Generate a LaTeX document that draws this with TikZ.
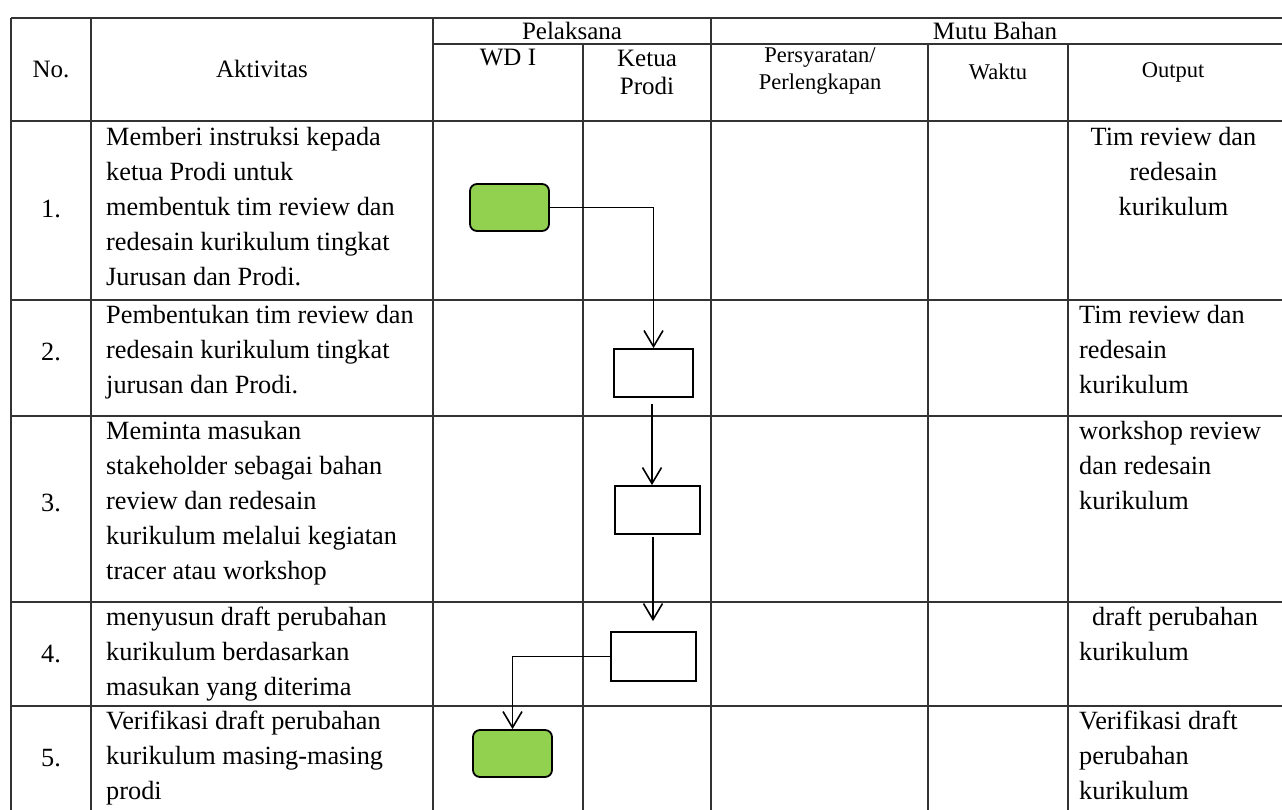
\documentclass[tikz,border=0pt]{standalone}
\usepackage{fontspec}
\setmainfont{Liberation Serif}
\usetikzlibrary{arrows.meta}
\definecolor{boxgreen}{HTML}{92D050}
\begin{document}
\begin{tikzpicture}[x=1pt,y=-1pt,
  grid/.style={line width=1.3pt,draw=black!80},
  body/.style={inner sep=0pt,font=\fontsize{26.3}{35}\selectfont},
  head/.style={inner sep=0pt,align=center,font=\fontsize{25}{28}\selectfont},
  headsm/.style={inner sep=0pt,align=center,font=\fontsize{22.5}{27}\selectfont},
  act/.style={body,anchor=north west,align=left},
  outc/.style={body,anchor=north,align=center},
  outl/.style={body,anchor=north west,align=left},
  num/.style={body,anchor=base},
  termbox/.style={draw=black,line width=1.8pt,fill=boxgreen,rounded corners=7pt,minimum width=79pt,minimum height=47pt,inner sep=0pt},
  procbox/.style={draw=black,line width=1.8pt,fill=white,minimum height=48pt,inner sep=0pt},
  flow/.style={line width=1.6pt,draw=black,-{Straight Barb[length=16pt,width=19pt,line width=1.6pt]}}
]
\useasboundingbox (0,0) rectangle (1282,809);
% grid
\draw[grid] (11,18) -- (1283,18);
\draw[grid] (433,44) -- (1283,44);
\foreach \yy in {121,300,416,602,706} \draw[grid] (11,\yy) -- (1283,\yy);
\foreach \xx in {11,91,433,711} \draw[grid] (\xx,18) -- (\xx,810);
\foreach \xx in {583,928,1068} \draw[grid] (\xx,44) -- (\xx,810);
% header
\node[head] (hno) at (51,69) {No.};
\node[head] (hakt) at (262,69) {Aktivitas};
\node[head] (hpel) at (572,31) {Pelaksana};
\node[head] (hmutu) at (995,31) {Mutu Bahan};
\node[head] (hwd) at (508,58) {WD I};
\node[head] (hkp) at (647,72) {Ketua\\Prodi};
\node[headsm] (hpers) at (820,71) {Persyaratan/\\Perlengkapan};
\node[headsm] (hwak) at (998,72) {Waktu};
\node[headsm] (hout) at (1173,72) {Output};
% numbers
\node[num] (n1) at (51,217) {1.};
\node[num] (n2) at (51,360) {2.};
\node[num] (n3) at (51,511) {3.};
\node[num] (n4) at (51,662) {4.};
\node[num] (n5) at (51,766) {5.};
% activities
\node[act] (a1) at (106,121) {\strut Memberi instruksi kepada\\ketua Prodi untuk\\membentuk tim review dan\\redesain kurikulum tingkat\\Jurusan dan Prodi.};
\node[act] (a2) at (106,299) {\strut Pembentukan tim review dan\\redesain kurikulum tingkat\\jurusan dan Prodi.};
\node[act] (a3) at (106,415) {\strut Meminta masukan\\stakeholder sebagai bahan\\review dan redesain\\kurikulum melalui kegiatan\\tracer atau workshop};
\node[act] (a4) at (106,601) {\strut menyusun draft perubahan\\kurikulum berdasarkan\\masukan yang diterima};
\node[act] (a5) at (106,705) {\strut Verifikasi draft perubahan\\kurikulum masing-masing\\prodi};
% outputs
\node[outc] (o1) at (1173.5,121) {\strut Tim review dan\\redesain\\kurikulum};
\node[outl] (o2) at (1079,299) {\strut Tim review dan\\redesain\\kurikulum};
\node[outl] (o3) at (1079,415) {\strut workshop review\\dan redesain\\kurikulum};
\node[outl] (o4) at (1079,601) {\strut\hspace*{13pt}draft perubahan\\kurikulum};
\node[outl] (o5) at (1079,705) {\strut Verifikasi draft\\perubahan\\kurikulum};
% flow boxes
\node[termbox] (b1) at (509.5,207.5) {};
\node[procbox,minimum width=79pt] (b2) at (653.5,373) {};
\node[procbox,minimum width=85pt] (b3) at (657.5,510) {};
\node[procbox,minimum width=85pt,minimum height=49pt] (b4) at (653.5,656.5) {};
\node[termbox] (b5) at (512.5,753.5) {};
% connectors
\draw[flow] (b1.east) -| (b2.north);
\draw[flow] ([shift={(-1.5pt,-6pt)}]b2.south) -- ([xshift=-1.5pt]b2.south |- b3.north);
\draw[flow] ([shift={(-4.5pt,-2pt)}]b3.south) -- ([shift={(-4.5pt,10pt)}]b3.south |- b4.north);
\draw[flow] (b4.west) -| (b5.north);
\end{tikzpicture}
\end{document}
